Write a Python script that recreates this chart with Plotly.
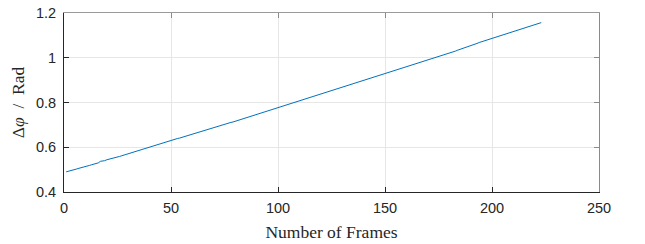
import plotly.graph_objects as go

frames = list(range(1, 224))
delta_phi = [
    0.490, 0.492, 0.495, 0.498, 0.500, 0.503, 0.506, 0.508, 0.511, 0.514,
    0.517, 0.519, 0.522, 0.525, 0.527, 0.530, 0.537, 0.538, 0.540, 0.544,
    0.546, 0.548, 0.551, 0.554, 0.557, 0.559, 0.562, 0.565, 0.568, 0.571,
    0.574, 0.577, 0.580, 0.583, 0.587, 0.590, 0.593, 0.597, 0.600, 0.602,
    0.605, 0.608, 0.610, 0.613, 0.616, 0.619, 0.621, 0.624, 0.627, 0.630,
    0.633, 0.636, 0.639, 0.641, 0.644, 0.647, 0.650, 0.653, 0.656, 0.659,
    0.662, 0.665, 0.667, 0.670, 0.673, 0.676, 0.679, 0.682, 0.685, 0.688,
    0.690, 0.693, 0.696, 0.699, 0.702, 0.705, 0.708, 0.711, 0.713, 0.716,
    0.719, 0.722, 0.725, 0.728, 0.731, 0.733, 0.736, 0.739, 0.742, 0.745,
    0.748, 0.751, 0.754, 0.757, 0.760, 0.763, 0.766, 0.769, 0.772, 0.775,
    0.778, 0.781, 0.784, 0.787, 0.791, 0.794, 0.797, 0.800, 0.803, 0.806,
    0.809, 0.812, 0.815, 0.818, 0.822, 0.825, 0.828, 0.831, 0.834, 0.837,
    0.840, 0.843, 0.846, 0.849, 0.853, 0.856, 0.859, 0.862, 0.865, 0.868,
    0.871, 0.874, 0.877, 0.880, 0.884, 0.887, 0.890, 0.893, 0.896, 0.899,
    0.902, 0.905, 0.908, 0.911, 0.915, 0.918, 0.921, 0.924, 0.927, 0.930,
    0.933, 0.936, 0.939, 0.942, 0.945, 0.948, 0.951, 0.954, 0.957, 0.960,
    0.963, 0.966, 0.969, 0.971, 0.974, 0.977, 0.980, 0.983, 0.986, 0.989,
    0.991, 0.994, 0.997, 1.000, 1.003, 1.007, 1.010, 1.013, 1.017, 1.020,
    1.024, 1.027, 1.030, 1.034, 1.037, 1.041, 1.044, 1.047, 1.051, 1.054,
    1.057, 1.061, 1.064, 1.068, 1.071, 1.074, 1.078, 1.081, 1.085, 1.088,
    1.091, 1.094, 1.097, 1.100, 1.103, 1.106, 1.109, 1.112, 1.115, 1.118,
    1.121, 1.124, 1.127, 1.130, 1.133, 1.136, 1.139, 1.142, 1.145, 1.148,
    1.151, 1.154, 1.157,
]

x_ticks = [0, 50, 100, 150, 200, 250]
y_ticks = [0.4, 0.6, 0.8, 1.0, 1.2]
y_tick_labels = ["0.4", "0.6", "0.8", "1", "1.2"]

axis_color = "#262626"
grid_color = "#e6e6e6"
tick_font = dict(family="Liberation Sans, Arial, sans-serif", size=14.5, color=axis_color)
label_font = dict(family="Liberation Serif, DejaVu Serif, serif", size=17.5, color=axis_color)

fig = go.Figure()
fig.add_trace(go.Scatter(
    x=frames, y=delta_phi, mode="lines",
    line=dict(color="#0072BD", width=1),
    showlegend=False, hoverinfo="skip",
))
# invisible trace so the mirrored top/right axes are drawn
fig.add_trace(go.Scatter(x=[None], y=[None], xaxis="x2", yaxis="y2",
                         showlegend=False, hoverinfo="skip"))

fig.update_layout(
    width=645, height=244,
    margin=dict(l=64, r=46, t=13, b=52),
    paper_bgcolor="white", plot_bgcolor="white",
    xaxis=dict(
        range=[0, 250], tickvals=x_ticks, ticks="inside", ticklen=5,
        tickcolor=axis_color, showline=True, linecolor=axis_color, linewidth=1,
        showgrid=True, gridcolor=grid_color, gridwidth=1, zeroline=False,
        tickfont=tick_font, ticklabelstandoff=3, automargin=False,
        title=dict(text="Number of Frames", font=label_font, standoff=10),
    ),
    yaxis=dict(
        range=[0.4, 1.2], tickvals=y_ticks, ticktext=y_tick_labels,
        ticks="inside", ticklen=5,
        tickcolor=axis_color, showline=True, linecolor=axis_color, linewidth=1,
        showgrid=True, gridcolor=grid_color, gridwidth=1, zeroline=False,
        tickfont=tick_font, ticklabelstandoff=4, automargin=False,
        title=dict(text="Δ<i>φ</i>\u00a0\u00a0/\u00a0\u00a0Rad", font=label_font, standoff=6),
    ),
    xaxis2=dict(
        overlaying="x", matches="x", side="top", anchor="y2",
        range=[0, 250], tickvals=x_ticks, ticks="inside", ticklen=5,
        tickcolor="#8a8a8a", showline=True, linecolor="#9a9a9a", linewidth=1,
        showgrid=False, zeroline=False, showticklabels=False, automargin=False,
    ),
    yaxis2=dict(
        overlaying="y", matches="y", side="right", anchor="x2",
        range=[0.4, 1.2], tickvals=y_ticks, ticks="inside", ticklen=5,
        tickcolor="#8a8a8a", showline=True, linecolor="#8a8a8a", linewidth=1,
        showgrid=False, zeroline=False, showticklabels=False, automargin=False,
    ),
)

fig.write_html("out.html")
